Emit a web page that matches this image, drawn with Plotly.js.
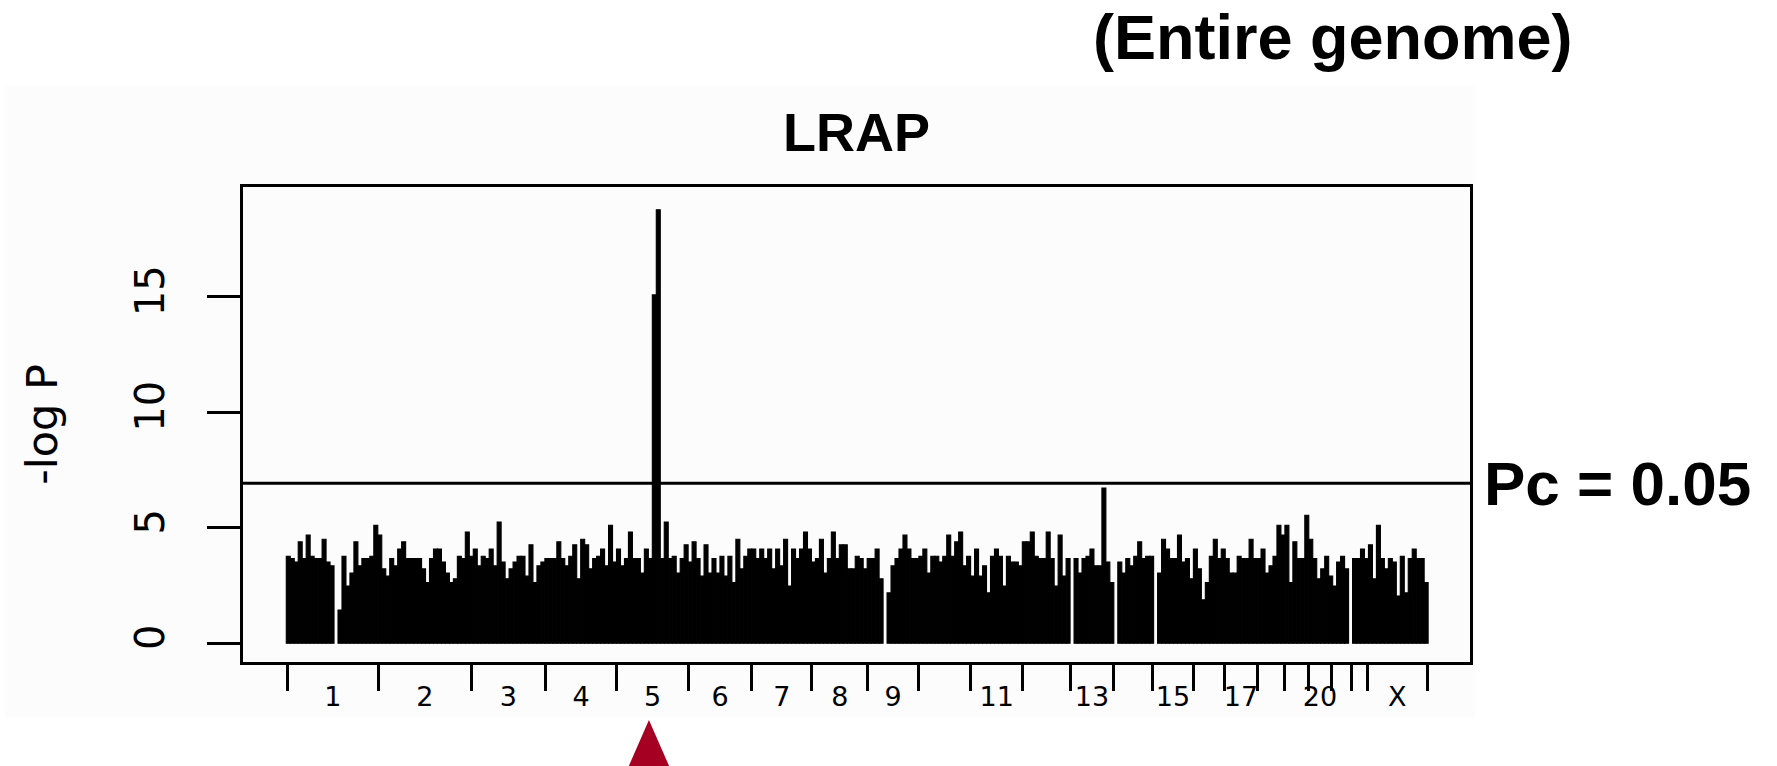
<!DOCTYPE html>
<html><head><meta charset="utf-8">
<script src="https://cdn.plot.ly/plotly-3.0.1.min.js"></script>
<style>html,body{margin:0;padding:0;background:#fff}</style>
</head><body><div id="chart" style="width:1777px;height:766px"></div>
<script>
// Chromosomes and approximate genetic lengths (cM)
const chromosomes = ['1','2','3','4','5','6','7','8','9','10','11','12','13','14','15','16','17','18','19','20','21','22','X'];
const chromLengthCM = [275,277,224,213,216,189,181,167,153,157,155,143,131,117,121,95,97,81,72,71,59,48,179];
const labeledChromosomes = ['1','2','3','4','5','6','7','8','9','11','13','15','17','20','X'];

// Marker grid along the genome (cM)
const markerStartCM = -2.4;
const markerSpacingCM = 11.94;

// -log P per marker (null = no result)
const negLogP = [
 3.77,3.67,3.52,4.39,3.67,4.68,3.77,3.67,3.67,4.50,3.52,3.35,
 null,
 1.44,3.77,2.48,3.04,4.39,3.35,3.67,3.67,3.77,5.11,
 4.68,3.22,2.91,3.67,3.35,4.08,4.39,3.67,3.67,3.67,
 3.67,3.22,2.63,3.67,4.08,4.08,3.52,3.04,2.63,2.79,
 3.77,3.67,4.82,3.77,4.08,3.35,3.77,3.67,4.08,3.35,
 5.25,3.52,2.79,3.22,3.52,3.77,3.77,2.91,4.26,2.63,
 3.35,3.52,3.67,3.67,3.67,4.39,3.67,3.35,
 3.77,4.26,2.79,4.50,4.26,3.22,3.67,3.77,4.08,3.35,
 5.11,3.52,4.08,3.35,3.67,4.82,3.67,3.67,3.04,4.08,
 3.67,15.08,18.76,3.67,5.25,3.67,3.77,3.04,3.67,4.26,
 3.52,4.39,3.67,2.91,4.26,3.04,3.67,3.04,3.77,2.91,
 3.77,2.63,4.50,3.22,3.77,4.08,4.08,3.67,4.08,3.67,
 4.08,3.22,4.08,3.35,4.50,2.48,4.08,3.67,4.08,4.82,
 4.08,3.52,3.67,4.50,3.04,3.67,4.82,3.67,4.26,4.26,
 3.22,3.22,3.77,
 3.67,3.22,3.67,3.67,4.08,2.79,
 null,
 2.18,3.35,3.67,4.08,4.68,4.08,3.67,3.67,3.77,4.08,
 3.04,3.77,3.77,3.52,3.77,4.68,3.77,4.39,4.82,3.35,
 3.77,2.91,4.08,2.91,3.35,2.18,3.77,4.08,3.77,2.48,
 3.77,3.52,3.52,3.35,4.39,4.39,4.82,3.77,3.67,3.67,
 4.82,3.67,2.48,4.68,2.91,3.67,
 null,
 3.67,3.04,3.67,3.77,4.08,3.35,3.35,6.72,3.52,2.63,
 null,
 3.52,3.04,3.67,3.35,3.77,4.39,3.67,3.77,3.77,
 null,
 3.04,4.50,4.08,3.67,3.67,4.68,3.52,3.67,2.79,4.08,
 3.22,1.88,2.63,3.77,4.50,3.67,4.08,3.67,3.04,3.04,
 3.77,3.67,3.67,4.50,3.67,3.67,4.08,3.04,3.35,3.77,
 5.11,4.68,5.11,2.63,4.39,3.67,3.67,5.54,4.50,3.67,
 2.79,3.22,3.77,2.91,2.48,3.52,3.77,3.22,
 null,
 3.67,3.67,4.08,3.67,4.26,2.79,5.11,3.67,3.22,3.67,
 3.52,2.05,3.77,2.18,3.67,4.08,3.67,3.67,2.63
];

const thresholdPc05 = 6.93;
const yTickValues = [0,5,10,15];
const highlightedChromosome = '5';

// ---- derived ----
const boundaries = [0];
chromLengthCM.forEach(l => boundaries.push(boundaries[boundaries.length-1] + l));
const centers = chromLengthCM.map((l,i) => boundaries[i] + l/2);
const labelPos = labeledChromosomes.map(c => centers[chromosomes.indexOf(c)]);
const markerPos = negLogP.map((v,i) => markerStartCM + (i + 0.5) * markerSpacingCM);

const xRange = [-132.3, 3550];
const yRange = [-0.81, 19.75];

const barTrace = {
  type: 'bar', x: markerPos, y: negLogP, width: markerSpacingCM,
  marker: {color: '#000', line: {color: '#000', width: 1.1}},
  hoverinfo: 'skip', xaxis: 'x', yaxis: 'y'
};
const thrTrace = {
  type: 'scatter', mode: 'lines', x: xRange, y: [thresholdPc05, thresholdPc05],
  line: {color: '#000', width: 3}, hoverinfo: 'skip', xaxis: 'x2', yaxis: 'y'
};

const boldFont = (s) => ({family: 'Liberation Sans, Arial, sans-serif', size: s, color: '#000', weight: 'bold'});

const hc = centers[chromosomes.indexOf(highlightedChromosome)];
const toPaperX = v => (v - xRange[0]) / (xRange[1] - xRange[0]);
const triHalf = 24.5 / 1227;
const triC = toPaperX(hc) - 0.003;

const layout = {
  width: 1777, height: 766,
  margin: {l: 243, r: 307, t: 187, b: 104},
  paper_bgcolor: '#fff', plot_bgcolor: '#fff',
  showlegend: false, bargap: 0,
  title: {text: 'LRAP', font: boldFont(54), x: 0.5, xref: 'paper', xanchor: 'center',
          y: 1 - 132/766, yref: 'container', yanchor: 'middle'},
  xaxis: {range: xRange, tickvals: boundaries, showticklabels: false,
          ticks: 'outside', ticklen: 26, tickwidth: 3, tickcolor: '#000',
          showline: true, linewidth: 3, linecolor: '#000', mirror: true,
          showgrid: false, zeroline: false, fixedrange: true},
  xaxis2: {overlaying: 'x', anchor: 'y', side: 'bottom', range: xRange,
           tickvals: labelPos, ticktext: labeledChromosomes, ticks: '',
           showline: false, showgrid: false, zeroline: false,
           tickfont: {family: 'DejaVu Sans', size: 27, color: '#000'}, ticklabelstandoff: 16, fixedrange: true},
  yaxis: {range: yRange, tickvals: yTickValues, ticktext: yTickValues.map(String),
          tickangle: -90, ticks: 'outside', ticklen: 33, tickwidth: 3, tickcolor: '#000',
          showline: true, linewidth: 3, linecolor: '#000', mirror: true,
          showgrid: false, zeroline: false, fixedrange: true,
          tickfont: {family: 'DejaVu Sans', size: 40, color: '#000'}, ticklabelstandoff: 27,
          title: {text: '-log P', font: {family: 'DejaVu Sans', size: 43, color: '#000'}, standoff: 56}},
  shapes: [
    {type: 'rect', xref: 'paper', yref: 'paper', x0: -0.194, x1: 1.004, y0: -0.118, y1: 1.2126,
     fillcolor: '#fcfcfc', line: {width: 0}, layer: 'below'},
    {type: 'path', xref: 'paper', yref: 'paper',
     path: `M ${triC - triHalf},-0.24 L ${triC + triHalf},-0.24 L ${triC},-0.122 Z`,
     fillcolor: '#a50021', line: {width: 0}, layer: 'above'}
  ],
  annotations: [
    {text: '(Entire genome)', xref: 'paper', yref: 'paper', x: 0.888, y: 1.315,
     xanchor: 'center', yanchor: 'middle', showarrow: false, font: boldFont(63)},
    {text: 'Pc = 0.05', xref: 'paper', yref: 'y', x: 1.0098, y: thresholdPc05,
     xanchor: 'left', yanchor: 'middle', showarrow: false, font: boldFont(62)}
  ]
};

Plotly.newPlot('chart', [barTrace, thrTrace], layout, {staticPlot: true, displayModeBar: false});
</script></body></html>
